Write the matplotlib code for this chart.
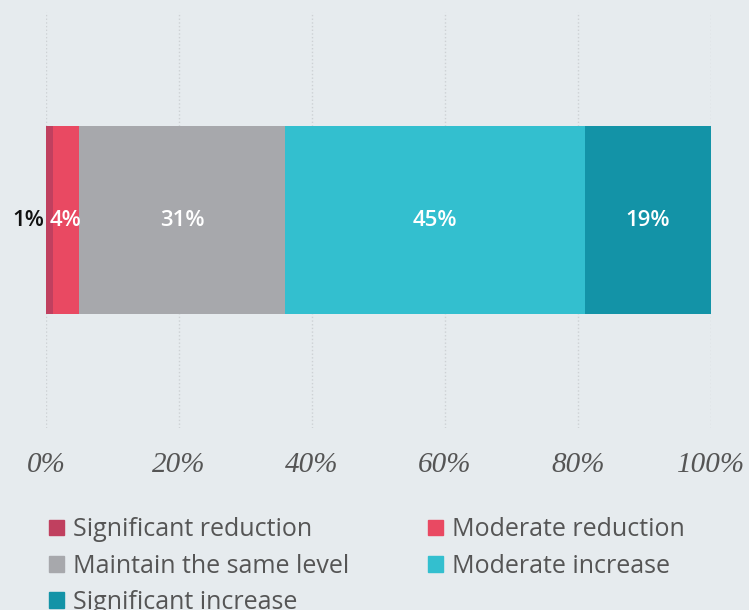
import matplotlib.pyplot as plt
from matplotlib.patches import Patch

# data
categories = ['Significant reduction', 'Moderate reduction', 'Maintain the same level',
              'Moderate increase', 'Significant increase']
values = [1, 4, 31, 45, 19]
colors = ['#c0405f', '#e94962', '#a7a8ac', '#33bfcf', '#1393a7']
ticks = [0, 20, 40, 60, 80, 100]
tick_labels = ['0%', '20%', '40%', '60%', '80%', '100%']

bg = '#e6ebee'
fig = plt.figure(figsize=(7.49, 6.1), dpi=100, facecolor=bg)
ax = fig.add_axes([46 / 749, 1 - 428 / 610, 665 / 749, 416 / 610], facecolor=bg)

left = 0
for cat, v, c in zip(categories, values, colors):
    ax.barh(0, v, left=left, height=0.452, color=c, label=cat, zorder=2)
    mid = left + v / 2
    if v < 2:
        # small segment: label sits outside, left of the bar
        ax.text(left - 0.2, 0, f'{v}%', ha='right', va='center', color='#111111',
                fontsize=16, family='Open Sans', fontweight='semibold', zorder=3)
    else:
        ax.text(mid, 0, f'{v}%', ha='center', va='center', color='white',
                fontsize=16, family='Open Sans', fontweight='semibold', zorder=3)
    left += v

ax.set_xlim(0, 100)
ax.set_ylim(-0.5, 0.5)
ax.set_xticks(ticks)
ax.set_xticklabels(tick_labels, family='Liberation Serif', style='italic', fontsize=21, color='#555555')
ax.tick_params(axis='x', length=0, pad=17)
ax.set_yticks([])
ax.grid(axis='x', linestyle=':', color='#cdd1d4', linewidth=1, zorder=0)
for s in ax.spines.values():
    s.set_visible(False)

# legend filled row by row
order = [0, 2, 4, 1, 3]
handles = [Patch(color=colors[i]) for i in order]
labels = [categories[i] for i in order]
fig.legend(handles, labels, ncol=2, loc='upper left', bbox_to_anchor=(0.066, 0.152),
           frameon=False, prop={'family': 'Open Sans', 'size': 18}, labelcolor='#555555',
           handlelength=0.6, handleheight=0.6, handletextpad=0.35, labelspacing=0.45,
           columnspacing=3.15, borderaxespad=0, borderpad=0)

fig.savefig('out.png', dpi=100, facecolor=bg)
